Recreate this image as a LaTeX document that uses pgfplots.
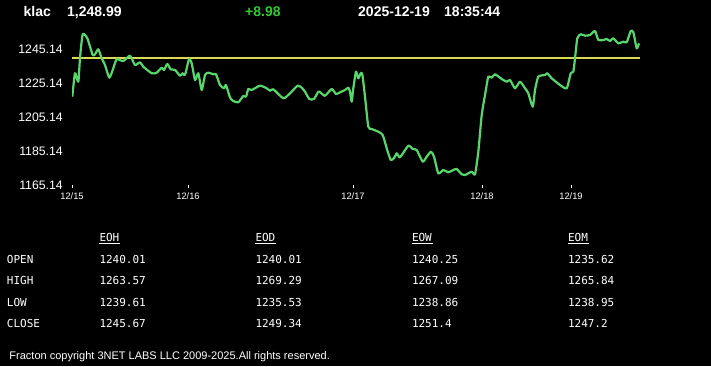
\documentclass[border=0pt]{standalone}
\usepackage{fontspec}
\setmainfont{Liberation Sans}
\newfontfamily\monofont{DejaVu Sans Mono}
\usepackage{pgfplots}
\pgfplotsset{compat=1.18}
\definecolor{linegreen}{RGB}{88,214,108}
\definecolor{refyellow}{RGB}{218,218,82}
\definecolor{hdrgreen}{RGB}{52,200,52}
\begin{document}
\begin{tikzpicture}[x=1bp,y=1bp]
\fill[black] (0,0) rectangle (711,366);
\path[use as bounding box] (0,0) rectangle (711,366);
\begin{axis}[
  at={(72bp,178bp)}, anchor=south west,
  width=568bp, height=160bp, scale only axis,
  xmin=72, xmax=640, ymin=1163.38, ymax=1257.49,
  axis line style={draw=none},
  xtick pos=bottom, ytick pos=left,
  tick align=inside, major tick length=3bp,
  xtick={72,188,353,482,571},
  xticklabels={12/15,12/16,12/17,12/18,12/19},
  ytick={1165.14,1185.14,1205.14,1225.14,1245.14},
  yticklabels={1165.14,1185.14,1205.14,1225.14,1245.14},
  xtick style={white, line width=1bp},
  ytick style={draw=none},
  /pgf/number format/assume math mode=true,
  xticklabel style={font=\fontsize{9.3bp}{10bp}\selectfont, text=white, inner sep=0pt, anchor=north, yshift=-5bp},
  yticklabel style={font=\fontsize{12.3bp}{13bp}\selectfont, text=white, inner sep=0pt, anchor=east, xshift=-9bp},
]
\addplot[refyellow, line width=1.8bp] coordinates {(72,1240.01) (640,1240.01)};
\addplot[linegreen, line width=2.2bp, smooth, tension=0.35, line join=round] coordinates {
(72.3,1217.08) (75,1230.85) (78.3,1225.90) (80,1239.85) (82.7,1253.79) (87.3,1251.43)
(92.7,1241.61) (95,1242.02) (98.3,1244.96) (101.7,1239.67) (105,1235.73) (109.3,1228.26)
(113.3,1233.79) (116.7,1239.08) (123.3,1238.08) (130,1241.20) (135,1235.73) (140,1237.32)
(143.3,1234.73) (151.7,1230.85) (156.7,1231.20) (161.7,1234.14) (164,1232.79) (167.3,1236.32)
(170.7,1233.20) (175,1232.79) (180,1229.43) (182.7,1230.85) (185,1229.85) (189,1239.08)
(191.7,1236.73) (195,1226.90) (198.3,1230.85) (201.7,1221.02) (205,1229.85) (208.3,1231.20)
(213.3,1230.26) (216,1230.26) (220,1223.96) (224,1222.02) (226,1223.96) (230,1216.6)
(233.3,1214.55) (238.3,1213.79) (243.3,1217.49) (246,1217.08) (248.3,1221.61) (251.7,1221.02)
(260,1223.55) (266.7,1222.02) (270,1220.61) (273.3,1221.43) (283.3,1216.14) (290,1219.08)
(297.7,1223.55) (301.7,1222.38) (305,1220.02) (309.3,1215.73) (314,1215.73) (318.3,1220.02)
(320.7,1219.43) (325,1217.67) (331.7,1221.61) (336,1218.67) (340,1219.67) (345,1221.02)
(348.3,1222.38) (350,1220.02) (351.7,1214.14) (353.3,1222.02) (356,1231.79) (358.3,1227.90)
(360.7,1230.85) (362.3,1230.26) (365,1217.08) (368.3,1199.43) (371.7,1198.08) (378.3,1196.49)
(382.7,1194.55) (386.7,1186.73) (390.7,1179.85) (394.3,1181.20) (396.7,1183.79) (400,1181.43)
(408.3,1188.26) (412.7,1186.32) (416.7,1185.73) (422.7,1178.85) (426.7,1181.79) (431,1184.73)
(434,1181.79) (438.3,1172.02) (443.3,1173.96) (448.3,1172.61) (453.3,1173.96) (456.7,1174.55)
(461.7,1171.43) (465,1171.02) (471.7,1172.96) (475,1171.43) (478.3,1184.73) (481.7,1206.32)
(485,1218.08) (488.3,1228.85) (491.7,1228.26) (495,1230.26) (501.7,1227.49) (506.7,1225.90)
(510,1226.90) (515,1222.02) (520,1225.90) (525,1222.02) (528.3,1219.08) (532.7,1211.20)
(535,1221.02) (538.3,1228.85) (545,1229.85) (547.3,1230.85) (551.7,1227.90) (560,1223.96)
(566.7,1222.02) (570.7,1230.85) (573.3,1231.79) (575,1239.67) (577.3,1251.43) (580.7,1253.79)
(585,1252.96) (590,1253.38) (595,1255.73) (598.3,1250.43) (603.3,1250.43) (606.7,1251.02)
(610,1249.85) (613.3,1251.43) (618.3,1248.49) (623.3,1249.43) (626.7,1249.08) (630.7,1255.73)
(633.3,1254.96) (636.7,1245.55) (639,1248.49)
};
\end{axis}
% header
\begin{scope}[every node/.style={inner sep=0pt, anchor=base west, text=white, font=\fontsize{14bp}{16bp}\selectfont\bfseries}]
\node at (23.5,350) {klac};
\node at (67,350) {1,248.99};
\node[text=hdrgreen] at (245,350) {+8.98};
\node at (358,350) {2025-12-19};
\node at (444,350) {18:35:44};
\end{scope}
% table
\begin{scope}[every node/.style={inner sep=0pt, anchor=base west, text=white, font=\monofont\fontsize{11bp}{12bp}\selectfont}]
\node at (99.3,124.3) {EOH};
\node at (255.3,124.3) {EOD};
\node at (411.8,124.3) {EOW};
\node at (567.8,124.3) {EOM};
\foreach \xx in {99.3,255.3,411.8,567.8} {\draw[white, line width=1bp] (\xx,122.2) -- ++(21,0);}
\node at (6.7,102.7) {OPEN};
\node at (6.7,81.1) {HIGH};
\node at (6.7,59.5) {LOW};
\node at (6.7,38.2) {CLOSE};
\node at (99.3,102.7) {1240.01};
\node at (255.3,102.7) {1240.01};
\node at (411.8,102.7) {1240.25};
\node at (567.8,102.7) {1235.62};
\node at (99.3,81.1) {1263.57};
\node at (255.3,81.1) {1269.29};
\node at (411.8,81.1) {1267.09};
\node at (567.8,81.1) {1265.84};
\node at (99.3,59.5) {1239.61};
\node at (255.3,59.5) {1235.53};
\node at (411.8,59.5) {1238.86};
\node at (567.8,59.5) {1238.95};
\node at (99.3,38.2) {1245.67};
\node at (255.3,38.2) {1249.34};
\node at (411.8,38.2) {1251.4};
\node at (567.8,38.2) {1247.2};
\end{scope}
% footer
\node[inner sep=0pt, anchor=base west, text=white, font=\fontsize{11bp}{12bp}\selectfont] at (9.3,6.8) {Fracton copyright 3NET LABS LLC 2009-2025.All rights reserved.};
\end{tikzpicture}
\end{document}
